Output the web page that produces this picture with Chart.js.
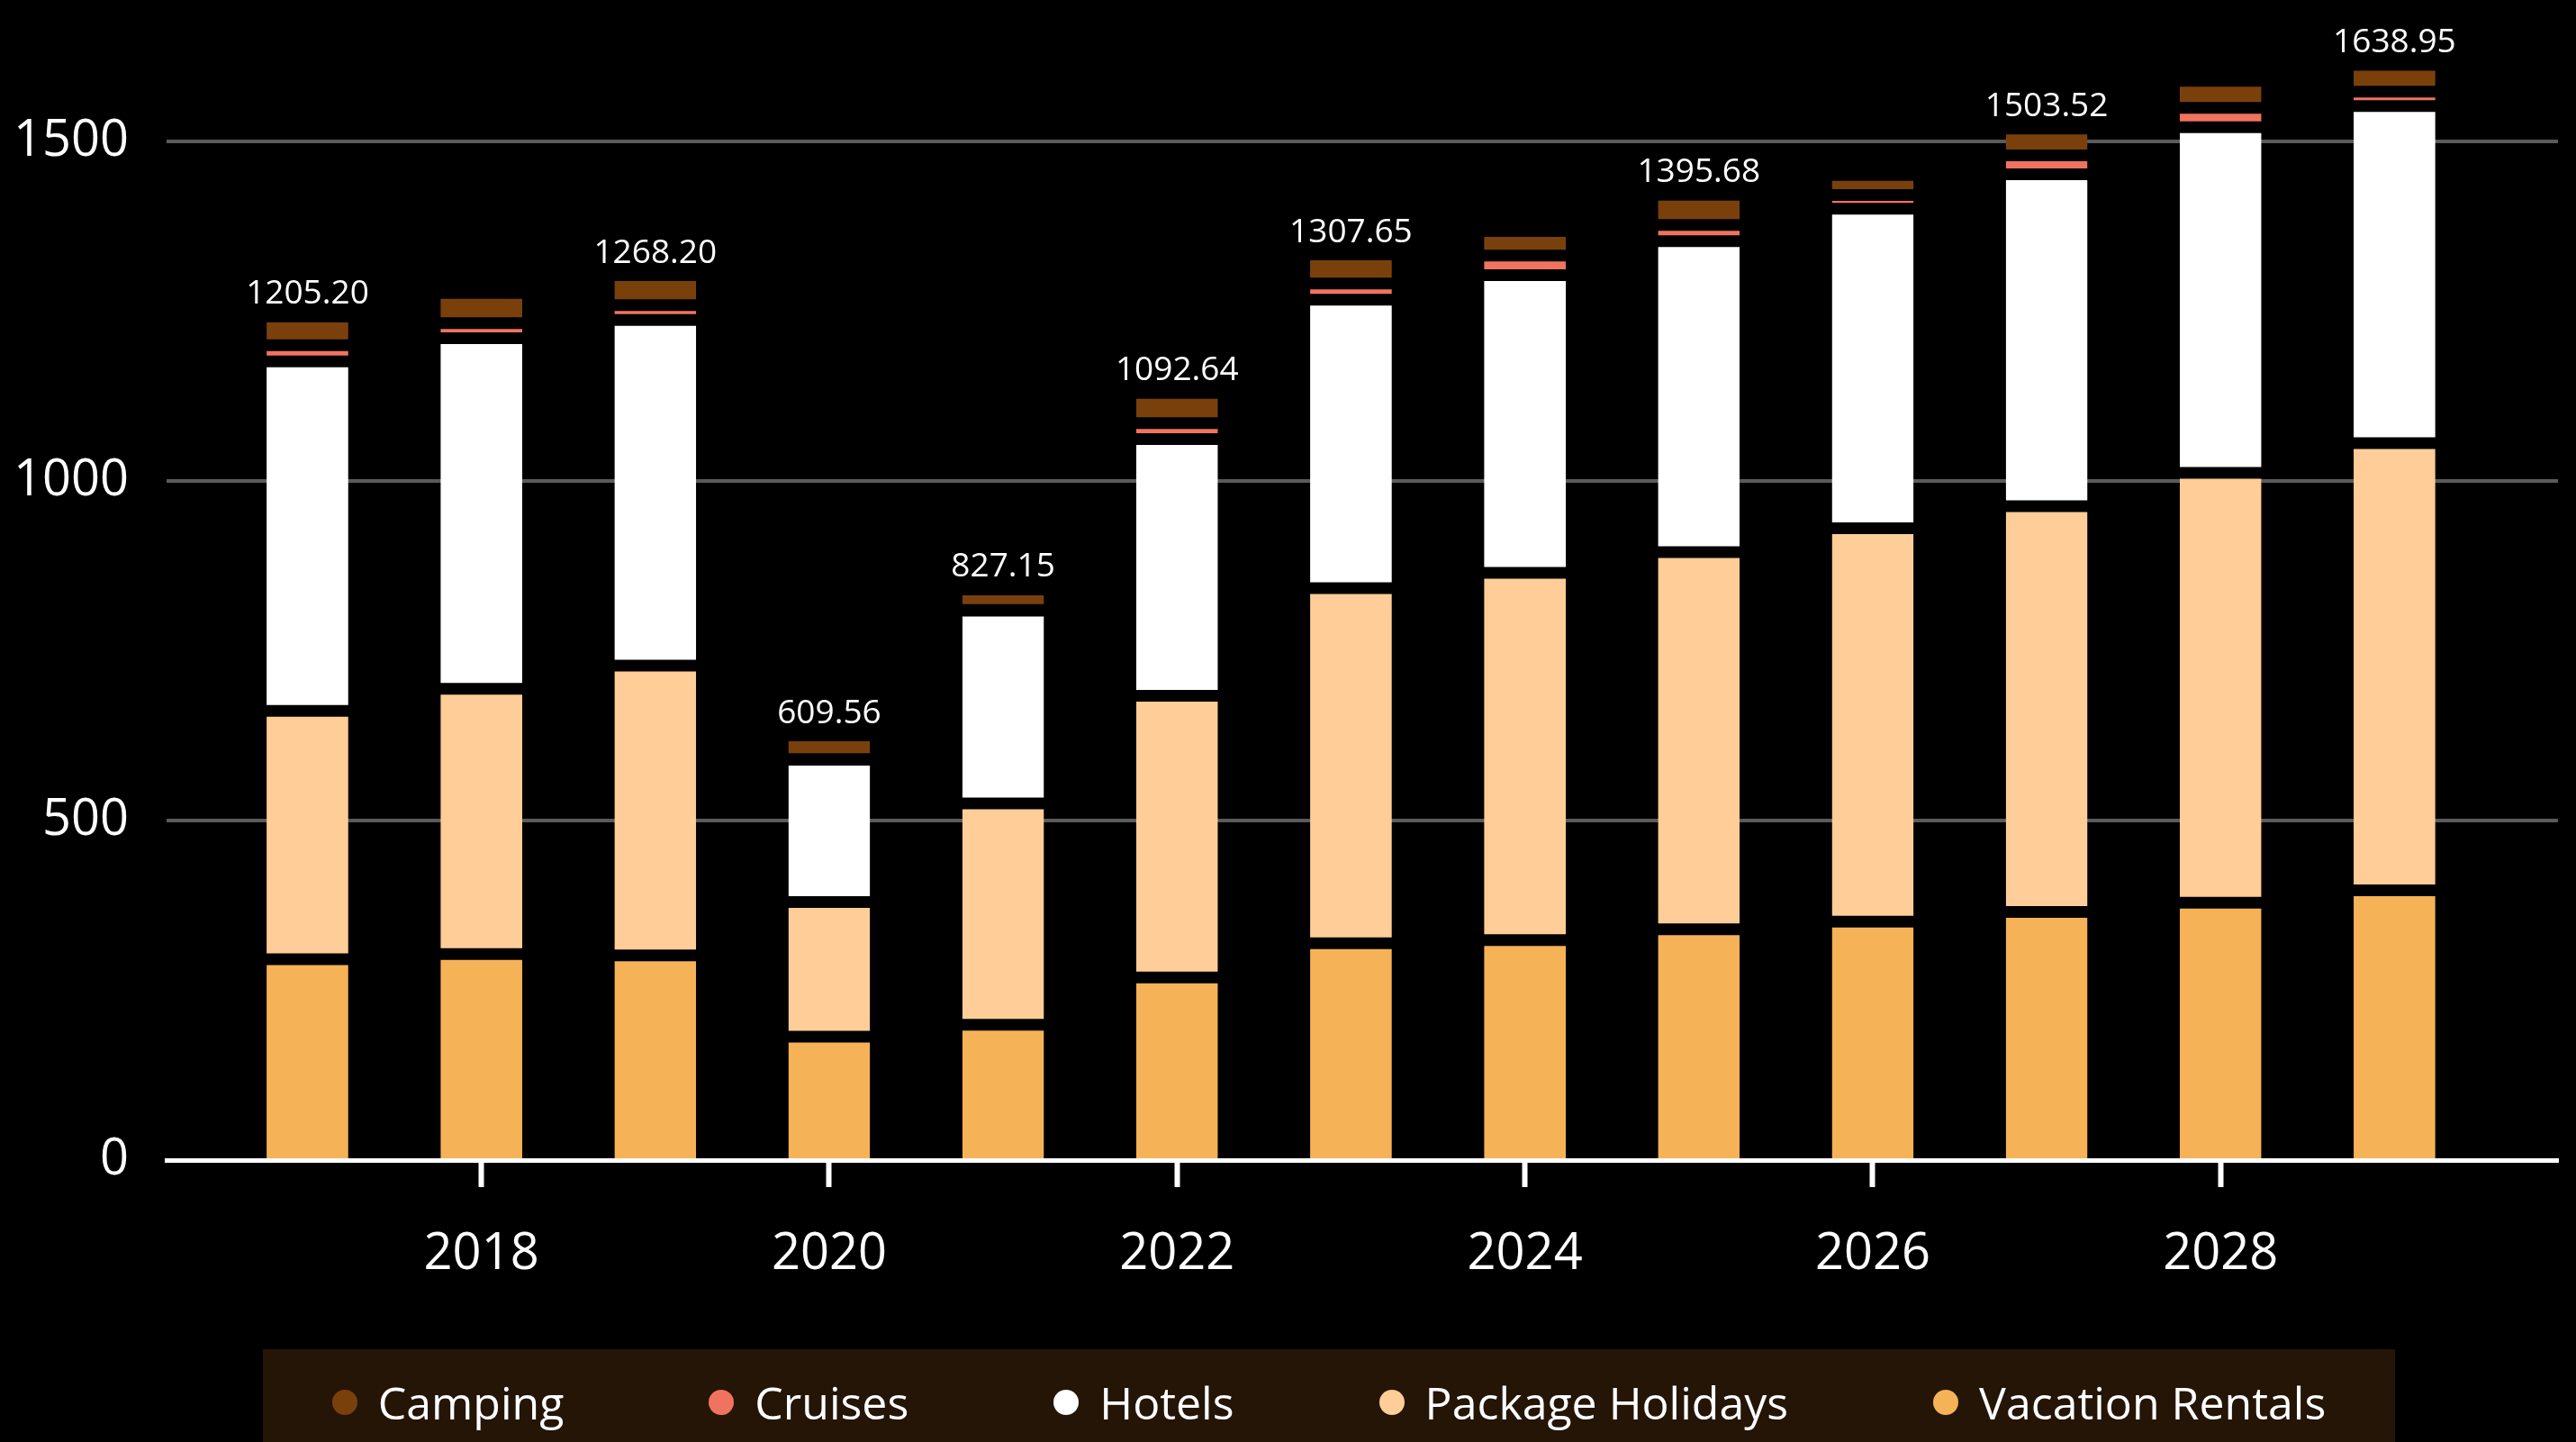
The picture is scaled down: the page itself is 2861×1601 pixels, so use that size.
<!DOCTYPE html>
<html>
<head>
<meta charset="utf-8">
<title>Travel spending by category</title>
<script src="https://cdn.jsdelivr.net/npm/chart.js@4.4.1/dist/chart.umd.min.js"></script>
<style>
  html, body { margin: 0; padding: 0; background: #000; }
  #wrap { position: relative; width: 2861px; height: 1601px; overflow: hidden; }
  #legend {
    position: absolute; left: 292px; top: 1498px; width: 2368px; height: 103px;
    background: #241507; box-sizing: border-box; padding-top: 14px;
    display: flex; align-items: center; justify-content: center; gap: 161px;
    font-family: 'Open Sans', 'DejaVu Sans', sans-serif; font-size: 50px; color: #fff;
  }
  #legend .item { display: flex; align-items: center; white-space: nowrap; }
  #legend .dot { width: 28px; height: 28px; border-radius: 50%; margin-right: 23px; }
</style>
</head>
<body>
<div id="wrap">
  <canvas id="chart" width="2861" height="1601"></canvas>
  <div id="legend"></div>
</div>
<script>
// Years on the x axis and the ticks that get a label
const years = [2017, 2018, 2019, 2020, 2021, 2022, 2023, 2024, 2025, 2026, 2027, 2028, 2029];
const yearTicks = [2018, 2020, 2022, 2024, 2026, 2028];
const valueTicks = [0, 500, 1000, 1500];

// Series, bottom of the stack first
const vacationRentals = [295.6, 303.4, 301.3, 181.7, 199.1, 268.8, 319.1, 323.9, 339.7, 351.1, 365.3, 378.9, 397.3];
const packageHolidays = [365.9, 390.6, 426.8, 198.3, 326.1, 414.7, 523.0, 540.7, 555.3, 579.0, 597.3, 633.0, 658.4];
const hotels = [514.5, 516.1, 508.8, 209.3, 283.8, 378.1, 424.7, 438.3, 457.8, 470.4, 488.7, 508.6, 496.2];
const cruises = [23.6, 22.0, 22.0, 1.0, 1.0, 23.6, 23.7, 28.9, 24.1, 20.4, 27.9, 28.8, 21.1];
const camping = [42.3, 44.4, 43.8, 34.8, 30.2, 44.3, 42.7, 35.9, 44.3, 29.6, 39.5, 39.7, 39.4];

// Totals printed above the bars (null = no label)
const totalLabels = [1205.20, null, 1268.20, 609.56, 827.15, 1092.64, 1307.65, null, 1395.68, null, 1503.52, null, 1638.95];

const FONT = "'Open Sans', 'DejaVu Sans', sans-serif";
const gap = 6.5; // half of the black gap between stacked pieces

function segment(label, data, color, isBottom) {
  return {
    label: label,
    data: data,
    backgroundColor: color,
    borderColor: '#000',
    borderWidth: { top: gap, bottom: isBottom ? 0 : gap, left: 0, right: 0 },
    borderSkipped: false,
    categoryPercentage: 0.47,
    barPercentage: 1
  };
}

// totals above the stacks
const barTotals = {
  id: 'barTotals',
  afterDatasetsDraw(chart) {
    const meta = chart.getDatasetMeta(chart.data.datasets.length - 1);
    const ctx = chart.ctx;
    ctx.save();
    ctx.font = '37px ' + FONT;
    ctx.fillStyle = '#fff';
    ctx.textAlign = 'center';
    ctx.textBaseline = 'alphabetic';
    meta.data.forEach((bar, i) => {
      if (totalLabels[i] == null) return;
      ctx.fillText(totalLabels[i].toFixed(2), bar.x, bar.y - 14);
    });
    ctx.restore();
  }
};

// html legend, top series first
const htmlLegend = {
  id: 'htmlLegend',
  afterUpdate(chart) {
    const box = document.getElementById('legend');
    box.innerHTML = '';
    const items = Chart.defaults.plugins.legend.labels.generateLabels(chart).reverse();
    items.forEach(item => {
      const el = document.createElement('div');
      el.className = 'item';
      const dot = document.createElement('span');
      dot.className = 'dot';
      dot.style.background = item.fillStyle;
      const txt = document.createElement('span');
      txt.textContent = item.text;
      el.appendChild(dot);
      el.appendChild(txt);
      box.appendChild(el);
    });
  }
};

const ctx = document.getElementById('chart').getContext('2d');
new Chart(ctx, {
  type: 'bar',
  data: {
    labels: years,
    datasets: [
      segment('Vacation Rentals', vacationRentals, '#f5b257', true),
      segment('Package Holidays', packageHolidays, '#fecd98', false),
      segment('Hotels', hotels, '#ffffff', false),
      segment('Cruises', cruises, '#f07360', false),
      segment('Camping', camping, '#7a400c', false)
    ]
  },
  options: {
    responsive: false,
    devicePixelRatio: 1,
    animation: false,
    layout: { padding: { top: 6, left: 0, right: 20, bottom: 0 } },
    plugins: {
      tooltip: { enabled: false },
      legend: { display: false }
    },
    scales: {
      x: {
        type: 'linear',
        stacked: true,
        offset: false,
        min: 2016.19,
        max: 2029.94,
        afterBuildTicks: s => { s.ticks = yearTicks.map(v => ({ value: v })); },
        afterFit: s => { s.height = 313; s.paddingLeft = 0; s.paddingRight = 0; },
        grid: { offset: false, drawOnChartArea: false, drawTicks: true, tickLength: 30, tickWidth: 6, tickColor: '#fff' },
        border: { display: true, color: '#fff', width: 5 },
        ticks: {
          color: '#fff',
          font: { family: FONT, size: 56 },
          padding: 41,
          maxRotation: 0,
          autoSkip: false,
          callback: v => String(v)
        }
      },
      y: {
        stacked: true,
        min: 0,
        max: 1700,
        afterBuildTicks: s => { s.ticks = valueTicks.map(v => ({ value: v })); },
        afterFit: s => { s.width = 185; s.paddingTop = 0; s.paddingBottom = 0; },
        grid: {
          color: c => (c.tick && c.tick.value === 0) ? 'rgba(0,0,0,0)' : '#5b5b5b',
          lineWidth: 4,
          drawTicks: false
        },
        border: { display: false },
        ticks: {
          color: '#fff',
          font: { family: FONT, size: 56 },
          padding: 42,
          callback: v => String(v)
        }
      }
    }
  },
  plugins: [barTotals, htmlLegend]
});
</script>
</body>
</html>
